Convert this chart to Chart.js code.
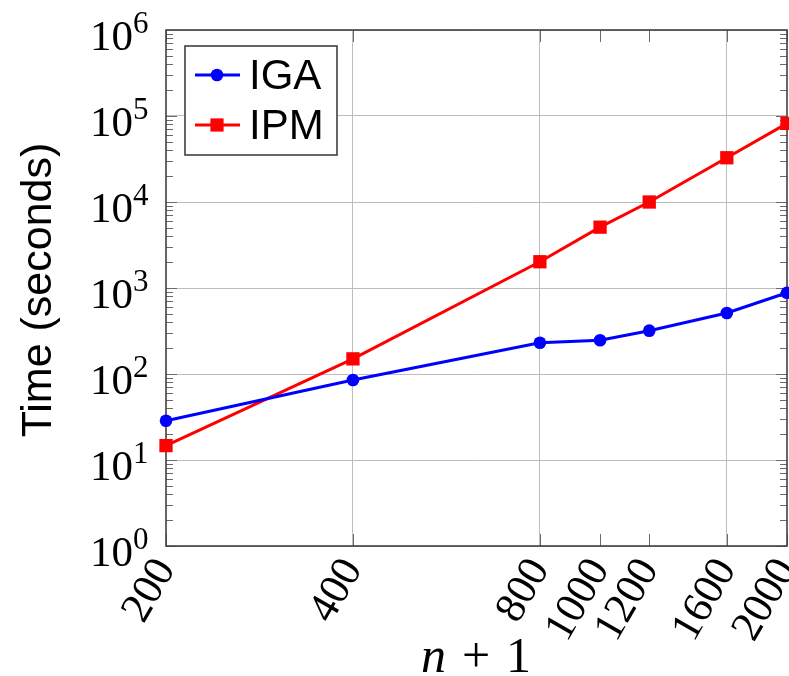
<!DOCTYPE html>
<html>
<head>
<meta charset="utf-8">
<script src="https://cdn.jsdelivr.net/npm/chart.js@4.4.0/dist/chart.umd.min.js"></script>
<style>
html,body{margin:0;padding:0;background:#fff;}
#c{display:block;}
</style>
</head>
<body>
<canvas id="c" width="789" height="676"></canvas>
<script>
// ---- data ----
const nValues = [200, 400, 800, 1000, 1200, 1600, 2000];
const igaTimes = [28.6, 85, 231, 247, 319, 512, 880];
const ipmTimes = [14.7, 150, 2020, 5100, 10000, 32700, 82000];
const xTickValues = [200, 400, 800, 1000, 1200, 1600, 2000];
const xGridValues = [400, 800, 1600];
const yDecadeExponents = [0, 1, 2, 3, 4, 5, 6];
const seriesNames = ['IGA', 'IPM'];

const igaData = nValues.map((n, i) => ({x: n, y: igaTimes[i]}));
const ipmData = nValues.map((n, i) => ({x: n, y: ipmTimes[i]}));

const TICK_COLOR = '#6a6a6a';
const BORDER_COLOR = '#404040';
const GRID_COLOR = '#bdbdbd';

const decorPlugin = {
  id: 'decor',
  beforeDatasetsDraw(chart) {
    const ctx = chart.ctx, a = chart.chartArea;
    const xs = chart.scales.x, ys = chart.scales.y;
    ctx.save();
    ctx.strokeStyle = TICK_COLOR;
    ctx.lineWidth = 1;
    for (let k = 0; k < 6; k++) {
      for (let m = 1; m <= 9; m++) {
        const v = m * Math.pow(10, k);
        const py = Math.round(ys.getPixelForValue(v)) + 0.5;
        const len = m === 1 ? 11 : 7;
        ctx.beginPath();
        ctx.moveTo(a.left, py); ctx.lineTo(a.left + len, py);
        ctx.moveTo(a.right, py); ctx.lineTo(a.right - len, py);
        ctx.stroke();
      }
    }
    xTickValues.forEach(v => {
      const px = Math.round(xs.getPixelForValue(v)) + 0.5;
      ctx.beginPath();
      ctx.moveTo(px, a.bottom); ctx.lineTo(px, a.bottom - 12);
      ctx.moveTo(px, a.top); ctx.lineTo(px, a.top + 12);
      ctx.stroke();
    });
    ctx.strokeStyle = BORDER_COLOR;
    ctx.lineWidth = 1.6;
    ctx.strokeRect(a.left, a.top, a.right - a.left, a.bottom - a.top);
    ctx.restore();
  },
  afterDraw(chart) {
    const ctx = chart.ctx, a = chart.chartArea;
    const ys = chart.scales.y;
    ctx.save();
    ctx.fillStyle = '#000';
    yDecadeExponents.forEach(k => {
      const py = ys.getPixelForValue(Math.pow(10, k));
      ctx.textBaseline = 'alphabetic';
      ctx.font = '43px "Liberation Serif"';
      ctx.textAlign = 'right';
      ctx.fillText('10', 133, py + 20);
      ctx.font = '31px "Liberation Serif"';
      ctx.textAlign = 'left';
      ctx.fillText(String(k), 133, py + 3);
    });
    ctx.save();
    ctx.translate(51, (a.top + a.bottom) / 2 + 2);
    ctx.rotate(-Math.PI / 2);
    ctx.font = '43px "Liberation Sans"';
    ctx.textAlign = 'center';
    ctx.textBaseline = 'alphabetic';
    ctx.fillText('Time (seconds)', 0, 0);
    ctx.restore();
    ctx.textAlign = 'left';
    ctx.textBaseline = 'alphabetic';
    ctx.font = 'italic 50px "Liberation Serif"';
    ctx.fillText('n', 421, 672);
    ctx.font = '50px "Liberation Serif"';
    ctx.fillText('+', 462, 672);
    ctx.fillText('1', 506, 672);
    const lx = 185, ly = 46, lw = 152, lh = 109;
    ctx.fillStyle = '#fff';
    ctx.fillRect(lx, ly, lw, lh);
    ctx.strokeStyle = BORDER_COLOR;
    ctx.lineWidth = 1.6;
    ctx.strokeRect(lx, ly, lw, lh);
    const rows = [
      {name: seriesNames[0], color: '#0000ff', y: 75, shape: 'circle'},
      {name: seriesNames[1], color: '#ff0000', y: 125, shape: 'rect'}
    ];
    rows.forEach(r => {
      ctx.strokeStyle = r.color;
      ctx.lineWidth = 3;
      ctx.beginPath();
      ctx.moveTo(195, r.y); ctx.lineTo(240, r.y);
      ctx.stroke();
      ctx.fillStyle = r.color;
      if (r.shape === 'circle') {
        ctx.beginPath(); ctx.arc(217, r.y, 6.3, 0, Math.PI * 2); ctx.fill();
      } else {
        ctx.fillRect(217 - 6.6, r.y - 6.6, 13.2, 13.2);
      }
      ctx.fillStyle = '#000';
      ctx.font = '42px "Liberation Sans"';
      ctx.textAlign = 'left';
      ctx.textBaseline = 'alphabetic';
      ctx.fillText(r.name, 249, r.y + 14);
    });
    ctx.restore();
  }
};

new Chart(document.getElementById('c'), {
  type: 'line',
  data: {
    datasets: [
      {label: seriesNames[0], data: igaData, borderColor: '#0000ff', backgroundColor: '#0000ff',
       borderWidth: 3, pointStyle: 'circle', pointRadius: 6.3, pointBorderWidth: 0, clip: false, tension: 0},
      {label: seriesNames[1], data: ipmData, borderColor: '#ff0000', backgroundColor: '#ff0000',
       borderWidth: 3, pointStyle: 'rect', pointRadius: 9.4, pointBorderWidth: 0, clip: false, tension: 0}
    ]
  },
  options: {
    responsive: false,
    animation: false,
    devicePixelRatio: 1,
    layout: {autoPadding: false, padding: {left: 0, top: 30, right: 2, bottom: 0}},
    plugins: {legend: {display: false}, tooltip: {enabled: false}},
    scales: {
      x: {
        type: 'logarithmic', min: 200, max: 2000,
        afterBuildTicks(scale) { scale.ticks = xTickValues.map(v => ({value: v})); },
        afterFit(scale) { scale.height = 130; scale.paddingLeft = 0; scale.paddingRight = 0; },
        ticks: {
          autoSkip: false, minRotation: 60, maxRotation: 60, padding: 4, color: '#000',
          font: {family: 'Liberation Serif', size: 43},
          callback: (v) => String(v)
        },
        grid: {
          drawTicks: false, lineWidth: 1,
          color: (c) => (c.tick && xGridValues.includes(c.tick.value)) ? GRID_COLOR : 'rgba(0,0,0,0)'
        },
        border: {display: false}
      },
      y: {
        type: 'logarithmic', min: 1, max: 1e6,
        afterBuildTicks(scale) { scale.ticks = yDecadeExponents.map(k => ({value: Math.pow(10, k)})); },
        afterFit(scale) { scale.width = 166; scale.paddingTop = 0; scale.paddingBottom = 0; },
        ticks: {display: false},
        grid: {drawTicks: false, lineWidth: 1, color: GRID_COLOR},
        border: {display: false}
      }
    }
  },
  plugins: [decorPlugin]
});
</script>
</body>
</html>
